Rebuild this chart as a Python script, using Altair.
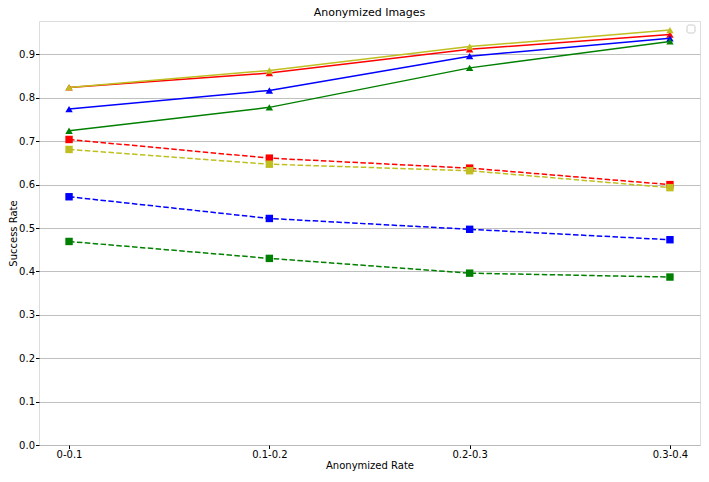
import altair as alt
import pandas as pd

rates = ["0-0.1", "0.1-0.2", "0.2-0.3", "0.3-0.4"]
series_names = ["red_solid", "blue_solid", "green_solid", "olive_solid",
                "red_dashed", "blue_dashed", "green_dashed", "olive_dashed"]
red_solid = [0.824, 0.857, 0.912, 0.946]
blue_solid = [0.774, 0.817, 0.896, 0.937]
green_solid = [0.724, 0.778, 0.869, 0.930]
olive_solid = [0.824, 0.863, 0.918, 0.956]
red_dashed = [0.704, 0.661, 0.638, 0.600]
blue_dashed = [0.572, 0.522, 0.497, 0.473]
green_dashed = [0.469, 0.430, 0.396, 0.387]
olive_dashed = [0.681, 0.647, 0.632, 0.593]
y_ticks = [0.0, 0.1, 0.2, 0.3, 0.4, 0.5, 0.6, 0.7, 0.8, 0.9]

colors = {"red": "#ff0000", "blue": "#0000ff", "green": "#008000", "olive": "#bfbf22"}

rows = []
for name, vals in zip(series_names, [red_solid, blue_solid, green_solid, olive_solid,
                                     red_dashed, blue_dashed, green_dashed, olive_dashed]):
    c, style = name.split("_")
    for i, (r, v) in enumerate(zip(rates, vals)):
        rows.append({"rate": r, "value": v, "series": name, "color": c, "style": style, "order": i})
df = pd.DataFrame(rows)

FONT = "DejaVu Sans"
W, H = 661, 424

x = alt.X("rate:O", sort=rates, scale=alt.Scale(type="point", padding=0.15),
          axis=alt.Axis(title="Anonymized Rate", labelAngle=0, grid=False, domain=False,
                        tickColor="black", tickSize=3.5, labelFontSize=10, titleFontSize=10,
                        labelColor="black", titleColor="black", labelFont=FONT, titleFont=FONT,
                        labelPadding=1, titlePadding=1, titleFontWeight="normal"))
y = alt.Y("value:Q", scale=alt.Scale(domain=[0, 0.977], nice=False, zero=True),
          axis=alt.Axis(title="Success Rate", values=y_ticks, format=".1f", grid=True,
                        gridColor="#b0b0b0", gridWidth=0.8, domain=False, tickColor="black",
                        tickSize=3.5, labelFontSize=10, titleFontSize=10, labelColor="black",
                        titleColor="black", labelFont=FONT, titleFont=FONT, labelPadding=1,
                        titlePadding=0, titleFontWeight="normal"))
color = alt.Color("color:N", scale=alt.Scale(domain=list(colors.keys()), range=list(colors.values())),
                  legend=None)

solid = df[df["style"] == "solid"]
dashed = df[df["style"] == "dashed"]

solid_lines = alt.Chart(solid).mark_line(strokeWidth=1.5).encode(
    x=x, y=y, color=color, detail="series:N", order="order:Q")
solid_pts = alt.Chart(solid).mark_point(shape="triangle-up", filled=True, opacity=1, size=55).encode(
    x=x, y=y, color=color)
dashed_lines = alt.Chart(dashed).mark_line(strokeWidth=1.5, strokeDash=[5.5, 2.4]).encode(
    x=x, y=y, color=color, detail="series:N", order="order:Q")
dashed_pts = alt.Chart(dashed).mark_square(filled=True, opacity=1, size=55).encode(
    x=x, y=y, color=color)

legend_box = alt.Chart(pd.DataFrame({"k": [0]})).mark_rect(
    fill="white", stroke="#cccccc", strokeWidth=1, cornerRadius=2).encode(
    x=alt.value(648), x2=alt.value(656), y=alt.value(4), y2=alt.value(12))

chart = alt.layer(solid_lines, dashed_lines, solid_pts, dashed_pts, legend_box).properties(
    width=W, height=H,
    title=alt.TitleParams("Anonymized Images", fontSize=11, font=FONT, fontWeight="normal",
                          color="black", offset=3),
    autosize=alt.AutoSizeParams(type="none"),
    padding={"left": 31, "top": 13, "right": 1, "bottom": 27},
).configure_view(stroke="black", strokeWidth=1.2).configure(background="white")

chart.save("out.html", embed_options={"renderer": "svg", "actions": False})
